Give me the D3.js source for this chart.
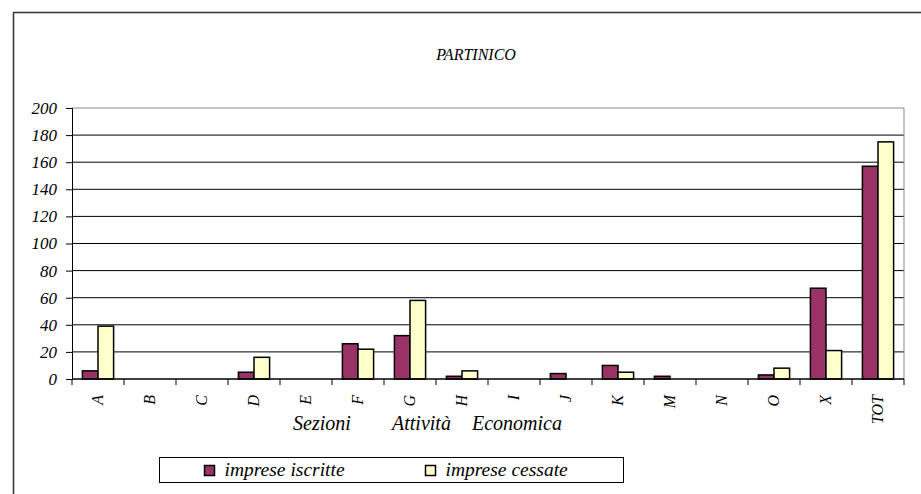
<!DOCTYPE html>
<html>
<head>
<meta charset="utf-8">
<script src="https://cdn.jsdelivr.net/npm/d3@7"></script>
<style>
  body { margin: 0; background: #fff; }
  svg { display: block; }
</style>
</head>
<body>
<div id="chart"></div>
<script>
// data
const categories = ["A", "B", "C", "D", "E", "F", "G", "H", "I", "J", "K", "M", "N", "O", "X", "TOT"];
const iscritte = [6, 0, 0, 5, 0, 26, 32, 2, 0, 4, 10, 2, 0, 3, 67, 157];
const cessate = [39, 0, 0, 16, 0, 22, 58, 6, 0, 0, 5, 0, 0, 8, 21, 175];
const seriesNames = ["imprese iscritte", "imprese cessate"];
const colors = ["#993366", "#FFFFCC"];
const yTicks = [0, 20, 40, 60, 80, 100, 120, 140, 160, 180, 200];

const FONT = "Liberation Serif";

const W = 921, H = 494;
const margin = {top: 108, right: 17, bottom: 115, left: 72},
    width = W - margin.left - margin.right,
    height = H - margin.top - margin.bottom;

const root = d3.select("#chart").append("svg")
    .attr("width", W)
    .attr("height", H)
    .attr("font-family", FONT)
    .attr("font-style", "italic");

// outer chart frame
root.append("rect")
    .attr("x", 13.5).attr("y", 12.5)
    .attr("width", W).attr("height", H)
    .attr("fill", "none")
    .attr("stroke", "#333")
    .attr("stroke-width", 1.5);

root.append("text")
    .attr("x", 476).attr("y", 60)
    .attr("text-anchor", "middle")
    .attr("font-size", 16)
    .text("PARTINICO");

const svg = root.append("g")
    .attr("transform", `translate(${margin.left},${margin.top})`);

const data = categories.map((c, i) => ({cat: c, values: [iscritte[i], cessate[i]]}));

// X scale
const x = d3.scaleBand()
    .domain(categories)
    .range([0, width])
    .paddingInner(0.4)
    .paddingOuter(0.2);
const xs = d3.scaleBand()
    .domain([0, 1])
    .range([0, x.bandwidth()]);

// Y scale
const y = d3.scaleLinear()
    .domain([0, 200])
    .range([height, 0]);

// gridlines
svg.append("g")
    .selectAll("line")
    .data(yTicks.slice(1))
    .join("line")
    .attr("x1", 0).attr("x2", width)
    .attr("y1", d => y(d)).attr("y2", d => y(d))
    .attr("stroke", d => d === 200 ? "#888" : "#000")
    .attr("stroke-width", 1);

// right border of plot area
svg.append("line")
    .attr("x1", width).attr("x2", width)
    .attr("y1", 0).attr("y2", height)
    .attr("stroke", "#888");

// Y axis
const yAxis = svg.append("g")
    .call(d3.axisLeft(y).tickValues(yTicks).tickSize(6).tickPadding(9))
    .attr("font-family", FONT)
    .attr("font-size", 17);
yAxis.select(".domain").attr("stroke", "#000");
yAxis.selectAll("text").attr("fill", "#000");

// Bars
svg.append("g")
    .selectAll("g")
    .data(data)
    .join("g")
    .attr("transform", d => `translate(${x(d.cat)},0)`)
    .selectAll("rect")
    .data(d => d.values.map((v, k) => ({k, v})).filter(e => e.v > 0))
    .join("rect")
    .attr("x", e => xs(e.k))
    .attr("y", e => y(e.v))
    .attr("width", xs.bandwidth())
    .attr("height", e => height - y(e.v))
    .attr("fill", e => colors[e.k])
    .attr("stroke", "#000")
    .attr("stroke-width", 1.5);

// X axis baseline + ticks at category boundaries
const step = x.step();
const xa = svg.append("g").attr("transform", `translate(0,${height})`);
xa.append("line")
    .attr("x1", 0).attr("x2", width)
    .attr("stroke", "#000").attr("stroke-width", 1.5);
xa.selectAll("line.tick")
    .data(d3.range(categories.length + 1))
    .join("line")
    .attr("class", "tick")
    .attr("x1", i => i * step).attr("x2", i => i * step)
    .attr("y1", 0).attr("y2", 6)
    .attr("stroke", "#000");

// rotated category labels
xa.selectAll("text")
    .data(categories)
    .join("text")
    .attr("transform", d => `translate(${x(d) + x.bandwidth() / 2 + 5},16) rotate(-90)`)
    .attr("text-anchor", "end")
    .attr("font-size", 16)
    .text(d => d);

// axis title
const title = root.append("text")
    .attr("y", 430)
    .attr("font-size", 20);
title.append("tspan").attr("x", 293).text("Sezioni");
title.append("tspan").attr("x", 392).text("Attività");
title.append("tspan").attr("x", 472).text("Economica");

// legend
const lg = root.append("g").attr("transform", "translate(159.5,457.5)");
lg.append("rect")
    .attr("width", 464).attr("height", 25)
    .attr("fill", "#fff")
    .attr("stroke", "#000");
seriesNames.forEach((name, k) => {
    const lx = k === 0 ? 45 : 266;
    lg.append("rect")
        .attr("x", lx).attr("y", 8)
        .attr("width", 10).attr("height", 10)
        .attr("fill", colors[k])
        .attr("stroke", "#000")
        .attr("stroke-width", 1.5);
    lg.append("text")
        .attr("x", lx + 20).attr("y", 18.5)
        .attr("font-size", 19.5)
        .text(name);
});
</script>
</body>
</html>
